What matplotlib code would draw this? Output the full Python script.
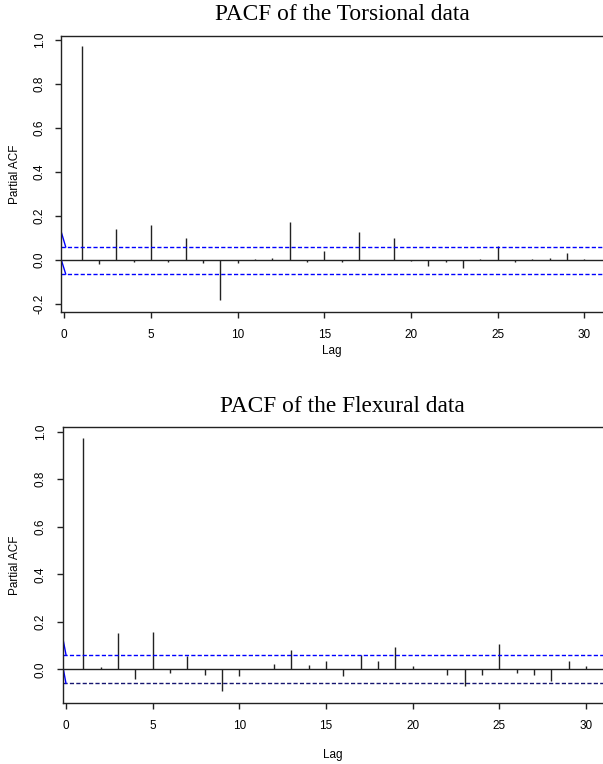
import matplotlib
matplotlib.use("Agg")
import matplotlib.pyplot as plt
import numpy as np

plt.rcParams['font.family'] = ['Liberation Sans', 'DejaVu Sans']

lags = list(range(1, 31))
torsional = [0.973, -0.02, 0.142, -0.01, 0.159, -0.01, 0.101, -0.015, -0.18, -0.013,
             0.006, 0.01, 0.171, -0.01, 0.041, -0.01, 0.127, 0.0, 0.098, -0.005,
             -0.027, -0.008, -0.035, 0.005, 0.064, -0.008, 0.006, 0.01, 0.032, 0.006]
flexural = [0.974, 0.01, 0.152, -0.039, 0.159, -0.015, 0.054, -0.025, -0.09, -0.03,
            0.0, 0.023, 0.083, 0.019, 0.033, -0.03, 0.061, 0.036, 0.095, 0.012,
            0.0, -0.022, -0.072, -0.025, 0.106, -0.015, -0.025, -0.051, 0.036, 0.015]

tors_ci = (0.06, -0.063)
flex_ci = (0.062, -0.059)
tors_lead_x = [-0.17, 0.08]
tors_lead_upper = [0.126, 0.06]
tors_lead_lower = [0.0, -0.063]
flex_lead_x = [-0.2, 0.0]
flex_lead_upper = [0.138, 0.062]
flex_lead_lower = [0.02, -0.059]

titles = ["PACF of the Torsional data", "PACF of the Flexural data"]
xticks = [0, 5, 10, 15, 20, 25, 30]

W, H = 603, 764
fig = plt.figure(figsize=(W / 100, H / 100), dpi=100)

def px_axes(left, top, right, bottom):
    return fig.add_axes([left / W, 1 - bottom / H, (right - left) / W, (bottom - top) / H])

panels = [
    dict(rect=(61.3, 35.7, 603, 312), xlim=(-0.173, 31.08), ylim=(-0.236, 1.0195),
         vals=torsional, ci=tors_ci, lx=tors_lead_x, lu=tors_lead_upper, ll=tors_lead_lower,
         yticks=[-0.2, 0.0, 0.2, 0.4, 0.6, 0.8, 1.0], lowcol='blue', title_y=14, lag_y=351),
    dict(rect=(62.5, 427.3, 603, 702.7), xlim=(-0.2, 30.97), ylim=(-0.1406, 1.0185),
         vals=flexural, ci=flex_ci, lx=flex_lead_x, lu=flex_lead_upper, ll=flex_lead_lower,
         yticks=[0.0, 0.2, 0.4, 0.6, 0.8, 1.0], lowcol='#161670', title_y=406, lag_y=755),
]

for p, title in zip(panels, titles):
    ax = px_axes(*p['rect'])
    ax.set_xlim(*p['xlim'])
    ax.set_ylim(*p['ylim'])
    ax.vlines(lags, 0, p['vals'], color='#222222', lw=1.0)
    ax.axhline(0, color='#222222', lw=1.0)
    ax.axhline(p['ci'][0], color='blue', lw=1.0, ls=(0, (3, 1.6)))
    ax.axhline(p['ci'][1], color=p['lowcol'], lw=1.0, ls=(0, (3, 1.6)))
    ax.plot(p['lx'], p['lu'], color='blue', lw=1.0)
    ax.plot(p['lx'], p['ll'], color='blue', lw=1.0)
    ax.spines['right'].set_visible(False)
    for s in ['left', 'top', 'bottom']:
        ax.spines[s].set_linewidth(1.0)
        ax.spines[s].set_color('#222222')
    ax.set_xticks(xticks)
    ax.set_xticklabels([str(t) for t in xticks], fontsize=8.5)
    ax.set_yticks(p['yticks'])
    ax.set_yticklabels([f"{t:.1f}" for t in p['yticks']], fontsize=8.5, rotation=90, va='center')
    ax.tick_params(axis='both', length=4.3, width=1.0, color='#222222')
    ax.tick_params(axis='x', pad=8)
    ax.tick_params(axis='y', pad=7)
    l, t, r, b = p['rect']
    fig.text((l + W) / 2 / W, 1 - p['lag_y'] / H, "Lag", ha='center', va='center', fontsize=8.5)
    fig.text(15 / W, 1 - (t + b) / 2 / H, "Partial ACF", ha='center', va='center',
             rotation=90, fontsize=8.5)
    fig.text(342 / W, 1 - p['title_y'] / H, title, ha='center', va='center',
             fontsize=16.8, family=['Liberation Serif', 'DejaVu Serif'])

fig.savefig("out.png", dpi=100)
